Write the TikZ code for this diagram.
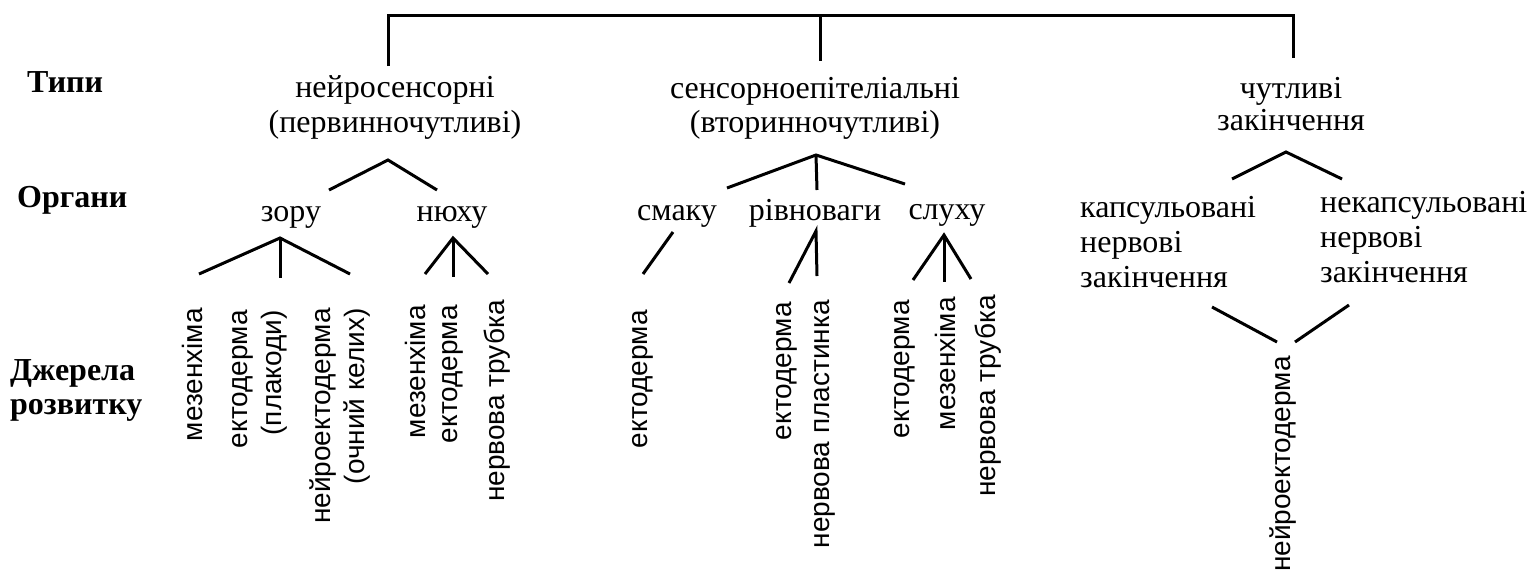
\documentclass[tikz,border=0pt]{standalone}
\usepackage{fontspec}
\setmainfont{Liberation Serif}
\newfontfamily\vsans{Liberation Sans}
\begin{document}
\begin{tikzpicture}[x=1pt,y=-1pt,
  conn/.style={line width=3pt, line join=miter},
  lbl/.style={inner sep=0pt, font=\fontsize{32}{36}\selectfont, align=center},
  hdr/.style={inner sep=0pt, font=\fontsize{32}{35}\selectfont\bfseries, align=left},
  src/.style={inner sep=0pt, rotate=90, anchor=east, font=\vsans\fontsize{28}{34}\selectfont, align=right},
]
\useasboundingbox (0,0) rectangle (1531,574);

% row headers
\node[hdr, anchor=base west] (typy) at (27,92) {Типи};
\node[hdr, anchor=base west] (organy) at (17,207) {Органи};
\node[hdr, anchor=north west] (dzherela) at (10,359) {Джерела\\[-1pt]розвитку};

% types
\node[lbl, anchor=north] (neuro) at (395,75) {нейросенсорні\\[-1pt](первинночутливі)};
\node[lbl, anchor=north] (sensep) at (815,77) {сенсорноепітеліальні\\[-2pt](вторинночутливі)};
\node[lbl, anchor=north] (chut) at (1291,77) {чутливі\\[-4pt]закінчення};

% organs
\node[lbl, anchor=north] (zoru) at (291,206) {зору};
\node[lbl, anchor=north] (nyukhu) at (452,206) {нюху};
\node[lbl, anchor=north] (smaku) at (677,205) {смаку};
\node[lbl, anchor=north] (rivn) at (815,199) {рівноваги};
\node[lbl, anchor=north] (slukhu) at (947,204) {слуху};
\node[lbl, anchor=north west, align=left] (kaps) at (1080,196) {капсульовані\\[-1pt]нервові\\[-1pt]закінчення};
\node[lbl, anchor=north west, align=left] (nekaps) at (1320,191) {некапсульовані\\[-1pt]нервові\\[-1pt]закінчення};

% sources
\node[src] (z1) at (192,308) {мезенхіма};
\node[src] (z2) at (260,310) {ектодерма\\(плакоди)};
\node[src] (z3) at (340,308) {нейроектодерма\\(очний келих)};
\node[src] (n1) at (415,305) {мезенхіма};
\node[src] (n2) at (453,305) {ектодерма};
\node[src] (n3) at (497,300) {нервова трубка};
\node[src] (s1) at (643,310) {ектодерма};
\node[src] (r1) at (787,302) {ектодерма};
\node[src] (r2) at (825,300) {нервова пластинка};
\node[src] (l1) at (905,300) {ектодерма};
\node[src] (l2) at (945,297) {мезенхіма};
\node[src] (l3) at (988,295) {нервова трубка};
\node[src] (ne) at (1283,356) {нейроектодерма};

% top bracket
\coordinate (tl) at (388,15);
\coordinate (tm) at (820,15);
\coordinate (tr) at (1293,15);
\coordinate (t1) at (388,66);
\coordinate (t2) at (820,61);
\coordinate (t3) at (1293,58);
\draw[conn] (t1) -- (tl) -- (tr) -- (t3);
\draw[conn] (tm) -- (t2);

% neuro -> organs
\coordinate (aN) at (388,160);
\coordinate (eN1) at (329,190);
\coordinate (eN2) at (437,190);
\draw[conn] (eN1) -- (aN) -- (eN2);

% zoru
\coordinate (aZ) at (280,238);
\coordinate (eZ1) at (199,274);
\coordinate (eZ2) at (280,278);
\coordinate (eZ3) at (350,274);
\draw[conn] (eZ1) -- (aZ) -- (eZ3);
\draw[conn] (aZ) -- (eZ2);

% nyukhu
\coordinate (aY) at (453,238);
\coordinate (eY1) at (425,274);
\coordinate (eY2) at (453,277);
\coordinate (eY3) at (488,274);
\draw[conn] (eY1) -- (aY) -- (eY3);
\draw[conn] (aY) -- (eY2);

% sensep -> organs
\coordinate (aS) at (816,155);
\coordinate (eS1) at (727,188);
\coordinate (eS2) at (817,190);
\coordinate (eS3) at (905,184);
\draw[conn] (eS1) -- (aS) -- (eS3);
\draw[conn] (aS) -- (eS2);

% smaku
\coordinate (aM) at (673,232);
\coordinate (eM1) at (643,274);
\draw[conn] (aM) -- (eM1);

% rivnovagy
\coordinate (aR) at (816,231);
\coordinate (eR1) at (789,283);
\coordinate (eR2) at (817,276);
\draw[conn] (eR1) -- (aR) -- (eR2);

% slukhu
\coordinate (aL) at (944,235);
\coordinate (eL1) at (913,280);
\coordinate (eL2) at (944,282);
\coordinate (eL3) at (971,279);
\draw[conn] (eL1) -- (aL) -- (eL3);
\draw[conn] (aL) -- (eL2);

% chutlyvi
\coordinate (aC) at (1286,152);
\coordinate (eC1) at (1232,179);
\coordinate (eC2) at (1342,179);
\draw[conn] (eC1) -- (aC) -- (eC2);

% endings -> neuroectoderm
\coordinate (kE) at (1212,307);
\coordinate (kA) at (1277,342);
\coordinate (nE) at (1349,305);
\coordinate (nA) at (1295,342);
\draw[conn] (kE) -- (kA);
\draw[conn] (nE) -- (nA);
\end{tikzpicture}
\end{document}
